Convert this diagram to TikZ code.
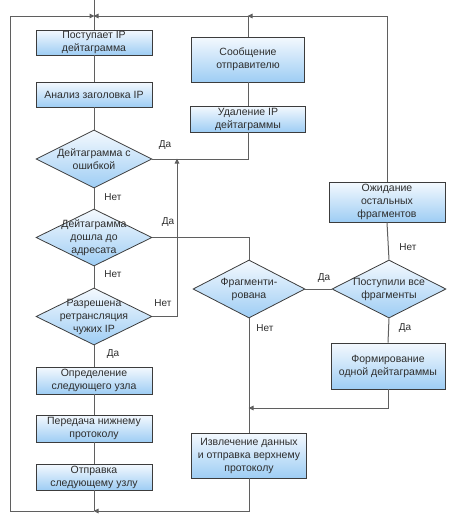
\documentclass[tikz,border=0pt]{standalone}
\usepackage{fontspec}
\setmainfont{Liberation Sans}
\usetikzlibrary{shapes.geometric,arrows.meta}
\definecolor{gtop}{RGB}{244,249,254}
\definecolor{gbot}{RGB}{158,205,244}
\definecolor{edgec}{RGB}{60,60,60}
\definecolor{wire}{RGB}{95,95,95}
\definecolor{txt}{RGB}{45,45,45}
\begin{document}
\begin{tikzpicture}[x=1pt,y=-1pt,
  box/.style={rectangle, draw=edgec, line width=0.8pt, top color=gtop, bottom color=gbot,
    minimum width=116pt, align=center, inner sep=1pt, text=txt, font=\fontsize{10.5}{13}\selectfont},
  dia/.style={diamond, draw=edgec, line width=0.8pt, top color=gtop, bottom color=gbot,
    minimum width=116pt, minimum height=58pt, inner sep=0pt},
  dtext/.style={align=center, inner sep=0pt, text=txt, font=\fontsize{10.5}{13}\selectfont},
  lbl/.style={font=\fontsize{10}{11}\selectfont, text=txt, inner sep=0pt},
  wireline/.style={draw=wire, line width=1pt},
  arr/.style={wireline, -{Triangle[length=5pt,width=4.5pt]}, shorten >=-0.5pt}
]
\useasboundingbox (0,0) rectangle (450,523);

% left column
\node[box, minimum height=25pt] (b1) at (94,42.5) {Поступает IP\\дейтаграмма};
\node[box, minimum height=25pt] (b2) at (94,94.5) {Анализ заголовка IP};
\node[dia] (d1) at (94,159) {};
\node[dtext] at (d1) {Дейтаграмма с\\ошибкой};
\node[dia, minimum height=57pt] (d2) at (94,237.5) {};
\node[dtext] at (d2) {Дейтаграмма\\дошла до\\адресата};
\node[dia, minimum height=57pt] (d3) at (94,316.5) {};
\node[dtext] at (d3) {Разрешена\\ретрансляция\\чужих IP};
\node[box, minimum height=27pt] (b3) at (94,380.5) {Определение\\следующего узла};
\node[box, minimum height=27pt] (b4) at (94,428.5) {Передача нижнему\\протоколу};
\node[box, minimum height=26pt] (b5) at (94,477) {Отправка\\следующему узлу};

% middle column
\node[box, minimum width=113pt, minimum height=45pt] (s1) at (248,59.5) {Сообщение\\отправителю};
\node[box, minimum width=115pt, minimum height=26pt] (s2) at (248,119) {Удаление IP\\дейтаграммы};
\node[dia, minimum width=112pt] (d4) at (249,289) {};
\node[dtext] at (d4) {Фрагменти-\\рована};
\node[box, minimum width=115pt, minimum height=45pt] (e) at (249,455.5) {Извлечение данных\\и отправка верхнему\\протоколу};

% right column
\node[box, minimum width=116pt, minimum height=40pt] (w) at (387,202) {Ожидание\\остальных\\фрагментов};
\node[dia, minimum width=114pt] (d5) at (389,289) {};
\node[dtext] at (d5) {Поступили все\\фрагменты};
\node[box, minimum width=114pt, minimum height=46pt] (f) at (388,366) {Формирование\\одной дейтаграммы};

% coordinates
\coordinate (top) at (94,0);
\coordinate (j1) at (94,16);
\coordinate (tl) at (10,16);
\coordinate (bl) at (10,511);
\coordinate (bj) at (94,511);
\coordinate (c1) at (248,159);
\coordinate (c2) at (248,16);
\coordinate (m1) at (177,159);
\coordinate (c3) at (249,408);

% main trunk
\draw[wireline] (top) -- (b1.north);
\draw[wireline] (b1) -- (b2);
\draw[wireline] (b2) -- (d1);
\draw[wireline] (d1) -- (d2);
\draw[wireline] (d2) -- (d3);
\draw[wireline] (d3) -- (b3);
\draw[wireline] (b3) -- (b4);
\draw[wireline] (b4) -- (b5);
\draw[wireline] (b5.south) -- (bj);

% loop back
\draw[arr] (bj) -- (bl) -- (tl) -- (j1);

% error branch
\draw[wireline] (d1.east) -- (c1) -- (s2.south);
\draw[wireline] (s2) -- (s1);
\draw[arr] (s1.north) -- (c2) -- (j1);

% relay not allowed
\draw[arr] (d3.east) -| (m1);

% arrived to destination
\draw[wireline] (d2.east) -| (d4.north);
\draw[wireline] (d4.east) -- (d5.west);
\draw[wireline] (d5.north) -- (w.south);
\draw[arr] (w.north) |- (c2);
\draw[wireline] (d5.south) -- (f.north);
\draw[arr] (f.south) |- (c3);
\draw[wireline] (d4.south) -- (e.north);
\draw[arr] (e.south) |- (bj);

% labels
\node[lbl] at (165,145) {Да};
\node[lbl] at (113,197) {Нет};
\node[lbl] at (168,222) {Да};
\node[lbl] at (113,274) {Нет};
\node[lbl] at (163,303) {Нет};
\node[lbl] at (113,354) {Да};
\node[lbl] at (324,278) {Да};
\node[lbl] at (408,247) {Нет};
\node[lbl] at (405,328) {Да};
\node[lbl] at (265,328) {Нет};
\end{tikzpicture}
\end{document}
